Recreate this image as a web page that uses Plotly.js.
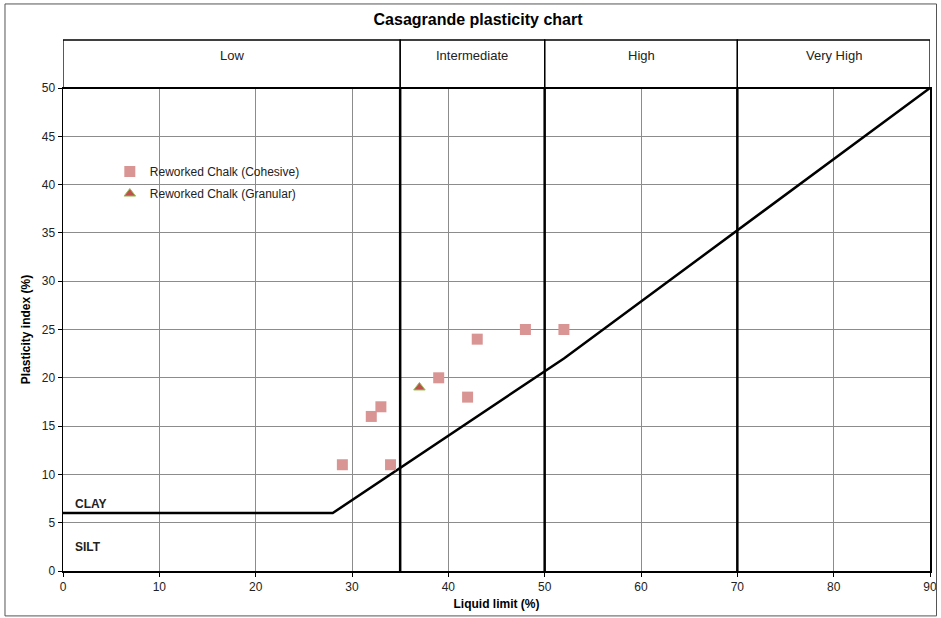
<!DOCTYPE html>
<html>
<head>
<meta charset="utf-8">
<script src="https://cdn.plot.ly/plotly-3.0.1.min.js"></script>
<style>
  html, body { margin: 0; padding: 0; background: #ffffff; }
  #chart { width: 941px; height: 618px; }
</style>
</head>
<body>
<div id="chart"></div>
<script>
// Casagrande plasticity chart: liquid limit vs plasticity index

// Reworked chalk test results
const cohesiveLL = [29, 32, 33, 34, 39, 42, 43, 48, 52];
const cohesivePI = [11, 16, 17, 11, 20, 18, 24, 25, 25];
const granularLL = [37];
const granularPI = [19];

// A-line separating CLAY (above) from SILT (below)
const aLineLL = [0, 28, 52, 90];
const aLinePI = [6, 6, 22, 50];

// Plasticity zones along the liquid limit axis
const zoneEdges = [0, 35, 50, 70, 90];
const zoneNames = ["Low", "Intermediate", "High", "Very High"];

const narrow = "'Liberation Sans Narrow', 'Arial Narrow', Arial, sans-serif";
const sans = "'Liberation Sans', Arial, sans-serif";

const traces = [
  {
    x: aLineLL, y: aLinePI, type: "scatter", mode: "lines",
    line: { color: "#000000", width: 2.5 },
    showlegend: false, hoverinfo: "skip"
  },
  {
    x: cohesiveLL, y: cohesivePI, type: "scatter", mode: "markers",
    name: "Reworked Chalk (Cohesive)", legendgroup: "a",
    marker: { symbol: "square", size: 11, color: "#d99594", line: { width: 0 } }
  },
  {
    x: granularLL, y: granularPI, type: "scatter", mode: "markers",
    name: "Reworked Chalk (Granular)", legendgroup: "b",
    marker: { symbol: "triangle-up", size: 10, color: "#c0504d",
              line: { width: 1, color: "#9bbb59" } }
  }
];

const shapes = [];
const annotations = [];

// Header boxes and zone labels
for (let i = 0; i < zoneNames.length; i++) {
  shapes.push({
    type: "rect", xref: "x", yref: "paper",
    x0: zoneEdges[i], x1: zoneEdges[i + 1], y0: 1, y1: 1.0994,
    line: { color: "#000000", width: 1.3 }, layer: "above"
  });
  annotations.push({
    text: zoneNames[i], xref: "x", yref: "paper",
    x: (zoneEdges[i] + zoneEdges[i + 1]) / 2, y: 1.068,
    xanchor: "center", yanchor: "middle", showarrow: false,
    font: { family: narrow, size: 13, color: "#222222" }
  });
}

// Heavy zone dividers inside the plot
for (let i = 1; i < zoneEdges.length - 1; i++) {
  shapes.push({
    type: "line", xref: "x", yref: "y",
    x0: zoneEdges[i], x1: zoneEdges[i], y0: 0, y1: 50,
    line: { color: "#000000", width: 2.5 }, layer: "between"
  });
}

// Heavy top edge of the plot area
shapes.push({
  type: "line", xref: "paper", yref: "paper",
  x0: 0, x1: 1, y0: 1, y1: 1,
  line: { color: "#000000", width: 2.2 }, layer: "above"
});

// Outer chart frame
shapes.push({
  type: "rect", xref: "paper", yref: "paper",
  x0: -0.0669, x1: 1.0075, y0: -0.093, y1: 1.174,
  line: { color: "#555555", width: 1 }, layer: "above"
});

// Soil type labels
annotations.push({
  text: "<b>CLAY</b>", xref: "x", yref: "y", x: 1, y: 6.9,
  xanchor: "left", yanchor: "middle", showarrow: false,
  font: { family: sans, size: 12, color: "#222222" }
});
annotations.push({
  text: "<b>SILT</b>", xref: "x", yref: "y", x: 1, y: 2.5,
  xanchor: "left", yanchor: "middle", showarrow: false,
  font: { family: sans, size: 12, color: "#222222" }
});

const layout = {
  width: 941, height: 618,
  margin: { l: 63, r: 11, t: 88, b: 47, pad: 0 },
  paper_bgcolor: "#ffffff", plot_bgcolor: "#ffffff",
  title: {
    text: "<b>Casagrande plasticity chart</b>",
    x: 0.508, xref: "container", xanchor: "center",
    y: 0.969, yref: "container", yanchor: "middle",
    font: { family: narrow, size: 16, color: "#000000" }
  },
  xaxis: {
    range: [0, 90], dtick: 10, tick0: 0,
    showgrid: true, gridcolor: "#8c8c8c", gridwidth: 1,
    zeroline: false, showline: true, linecolor: "#000000", linewidth: 1.5, mirror: true,
    ticks: "outside", ticklen: 4, tickcolor: "#000000",
    tickfont: { family: sans, size: 12, color: "#222222" },
    title: { text: "<b>Liquid limit (%)</b>", standoff: 6,
             font: { family: sans, size: 12, color: "#000000" } },
    fixedrange: true
  },
  yaxis: {
    range: [0, 50], dtick: 5, tick0: 0,
    showgrid: true, gridcolor: "#8c8c8c", gridwidth: 1,
    zeroline: false, showline: true, linecolor: "#000000", linewidth: 1.5, mirror: true,
    ticks: "outside", ticklen: 4, tickcolor: "#000000",
    tickfont: { family: sans, size: 12, color: "#222222" },
    title: { text: "<b>Plasticity index (%)</b>", standoff: 8,
             font: { family: sans, size: 12, color: "#000000" } },
    fixedrange: true
  },
  showlegend: true,
  legend: {
    x: 0.054, y: 0.857, xanchor: "left", yanchor: "top",
    bgcolor: "rgba(255,255,255,0)", borderwidth: 0,
    traceorder: "grouped", tracegroupgap: 3,
    font: { family: sans, size: 12, color: "#222222" }
  },
  shapes: shapes,
  annotations: annotations
};

Plotly.newPlot("chart", traces, layout, { displayModeBar: false, staticPlot: true });
</script>
</body>
</html>
